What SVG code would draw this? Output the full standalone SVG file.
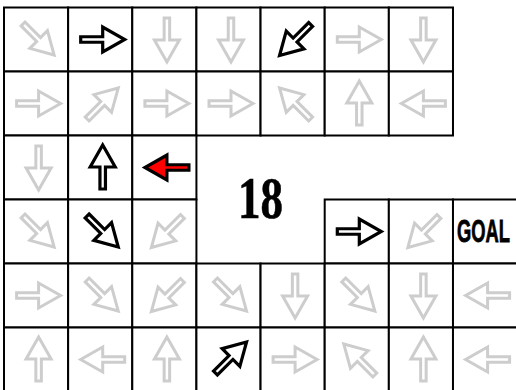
<svg xmlns="http://www.w3.org/2000/svg" xmlns:xlink="http://www.w3.org/1999/xlink" width="516" height="390" viewBox="0 0 516 390">
<style>
.cell{fill:#fff;stroke:#000;stroke-width:2}
.g{fill:#fff;stroke:#cdcdcd;stroke-width:3;stroke-linejoin:miter}
.k{fill:#fff;stroke:#000;stroke-width:3.2;stroke-linejoin:miter}
.r{fill:#ff0000;stroke:#000;stroke-width:3.2;stroke-linejoin:miter}
.num{font-family:"Liberation Serif",serif;font-weight:bold;font-size:59px;fill:#000;stroke:#000;stroke-width:0.6}
.goal{font-family:"Liberation Sans",sans-serif;font-weight:bold;font-size:32px;fill:#000;stroke:#000;stroke-width:0.8}
</style>
<defs>
<path id="a" d="M-22,-2.75 H0 V-12.5 L22,0 L0,12.5 V2.75 H-22 Z"/>
</defs>
<rect width="516" height="390" fill="#fff"/>
<g id="row0">
<g id="c0-0"><rect class="cell" x="4" y="7.5" width="64.14" height="64"/><use xlink:href="#a" class="g" transform="translate(38.6,39.5) rotate(45)"/></g>
<g id="c0-1"><rect class="cell" x="68.14" y="7.5" width="64.14" height="64"/><use xlink:href="#a" class="k" transform="translate(102.7,39.5)"/></g>
<g id="c0-2"><rect class="cell" x="132.28" y="7.5" width="64.14" height="64"/><use xlink:href="#a" class="g" transform="translate(166.9,40) rotate(90)"/></g>
<g id="c0-3"><rect class="cell" x="196.42" y="7.5" width="64.14" height="64"/><use xlink:href="#a" class="g" transform="translate(231,40) rotate(90)"/></g>
<g id="c0-4"><rect class="cell" x="260.56" y="7.5" width="64.14" height="64"/><use xlink:href="#a" class="k" transform="translate(295.1,40) rotate(135)"/></g>
<g id="c0-5"><rect class="cell" x="324.7" y="7.5" width="64.14" height="64"/><use xlink:href="#a" class="g" transform="translate(359.3,39.5)"/></g>
<g id="c0-6"><rect class="cell" x="388.84" y="7.5" width="64.14" height="64"/><use xlink:href="#a" class="g" transform="translate(423.4,40) rotate(90)"/></g>
</g>
<g id="row1">
<g id="c1-0"><rect class="cell" x="4" y="71.5" width="64.14" height="64"/><use xlink:href="#a" class="g" transform="translate(38.6,103.5)"/></g>
<g id="c1-1"><rect class="cell" x="68.14" y="71.5" width="64.14" height="64"/><use xlink:href="#a" class="g" transform="translate(102.7,103.5) rotate(315)"/></g>
<g id="c1-2"><rect class="cell" x="132.28" y="71.5" width="64.14" height="64"/><use xlink:href="#a" class="g" transform="translate(166.9,103.5)"/></g>
<g id="c1-3"><rect class="cell" x="196.42" y="71.5" width="64.14" height="64"/><use xlink:href="#a" class="g" transform="translate(231,103.5)"/></g>
<g id="c1-4"><rect class="cell" x="260.56" y="71.5" width="64.14" height="64"/><use xlink:href="#a" class="g" transform="translate(295.1,103.5) rotate(225)"/></g>
<g id="c1-5"><rect class="cell" x="324.7" y="71.5" width="64.14" height="64"/><use xlink:href="#a" class="g" transform="translate(359.3,103) rotate(270)"/></g>
<g id="c1-6"><rect class="cell" x="388.84" y="71.5" width="64.14" height="64"/><use xlink:href="#a" class="g" transform="translate(423.4,103.5) rotate(180)"/></g>
</g>
<g id="row2">
<g id="c2-0"><rect class="cell" x="4" y="135.5" width="64.14" height="64"/><use xlink:href="#a" class="g" transform="translate(38.6,168) rotate(90)"/></g>
<g id="c2-1"><rect class="cell" x="68.14" y="135.5" width="64.14" height="64"/><use xlink:href="#a" class="k" transform="translate(102.7,167) rotate(270)"/></g>
<g id="c2-2"><rect class="cell" x="132.28" y="135.5" width="64.14" height="64"/><use xlink:href="#a" class="r" transform="translate(166.9,167.5) rotate(180)"/></g>
</g>
<g id="row3">
<g id="c3-0"><rect class="cell" x="4" y="199.5" width="64.14" height="64"/><use xlink:href="#a" class="g" transform="translate(38.6,231.5) rotate(45)"/></g>
<g id="c3-1"><rect class="cell" x="68.14" y="199.5" width="64.14" height="64"/><use xlink:href="#a" class="k" transform="translate(102.7,231.5) rotate(45)"/></g>
<g id="c3-2"><rect class="cell" x="132.28" y="199.5" width="64.14" height="64"/><use xlink:href="#a" class="g" transform="translate(166.9,232) rotate(135)"/></g>
<g id="c3-5"><rect class="cell" x="324.7" y="199.5" width="64.14" height="64"/><use xlink:href="#a" class="k" transform="translate(359.3,231.5)"/></g>
<g id="c3-6"><rect class="cell" x="388.84" y="199.5" width="64.14" height="64"/><use xlink:href="#a" class="g" transform="translate(423.4,232) rotate(135)"/></g>
<g id="c3-7"><rect class="cell" x="452.98" y="199.5" width="64.14" height="64"/><text class="goal" x="483.5" y="241.5" text-anchor="middle" textLength="53" lengthAdjust="spacingAndGlyphs">GOAL</text></g>
</g>
<g id="row4">
<g id="c4-0"><rect class="cell" x="4" y="263.5" width="64.14" height="64"/><use xlink:href="#a" class="g" transform="translate(38.6,295.5)"/></g>
<g id="c4-1"><rect class="cell" x="68.14" y="263.5" width="64.14" height="64"/><use xlink:href="#a" class="g" transform="translate(102.7,295.5) rotate(45)"/></g>
<g id="c4-2"><rect class="cell" x="132.28" y="263.5" width="64.14" height="64"/><use xlink:href="#a" class="g" transform="translate(166.9,296) rotate(135)"/></g>
<g id="c4-3"><rect class="cell" x="196.42" y="263.5" width="64.14" height="64"/><use xlink:href="#a" class="g" transform="translate(231,295.5) rotate(45)"/></g>
<g id="c4-4"><rect class="cell" x="260.56" y="263.5" width="64.14" height="64"/><use xlink:href="#a" class="g" transform="translate(295.1,296) rotate(90)"/></g>
<g id="c4-5"><rect class="cell" x="324.7" y="263.5" width="64.14" height="64"/><use xlink:href="#a" class="g" transform="translate(359.3,295.5) rotate(45)"/></g>
<g id="c4-6"><rect class="cell" x="388.84" y="263.5" width="64.14" height="64"/><use xlink:href="#a" class="g" transform="translate(423.4,296) rotate(90)"/></g>
<g id="c4-7"><rect class="cell" x="452.98" y="263.5" width="64.14" height="64"/><use xlink:href="#a" class="g" transform="translate(487.6,295.5) rotate(180)"/></g>
</g>
<g id="row5">
<g id="c5-0"><rect class="cell" x="4" y="327.5" width="64.14" height="64"/><use xlink:href="#a" class="g" transform="translate(38.6,359) rotate(270)"/></g>
<g id="c5-1"><rect class="cell" x="68.14" y="327.5" width="64.14" height="64"/><use xlink:href="#a" class="g" transform="translate(102.7,359.5) rotate(180)"/></g>
<g id="c5-2"><rect class="cell" x="132.28" y="327.5" width="64.14" height="64"/><use xlink:href="#a" class="g" transform="translate(166.9,359) rotate(270)"/></g>
<g id="c5-3"><rect class="cell" x="196.42" y="327.5" width="64.14" height="64"/><use xlink:href="#a" class="k" transform="translate(231,357.5) rotate(315)"/></g>
<g id="c5-4"><rect class="cell" x="260.56" y="327.5" width="64.14" height="64"/><use xlink:href="#a" class="g" transform="translate(295.1,359.5)"/></g>
<g id="c5-5"><rect class="cell" x="324.7" y="327.5" width="64.14" height="64"/><use xlink:href="#a" class="g" transform="translate(359.3,359.5) rotate(225)"/></g>
<g id="c5-6"><rect class="cell" x="388.84" y="327.5" width="64.14" height="64"/><use xlink:href="#a" class="g" transform="translate(423.4,359) rotate(270)"/></g>
<g id="c5-7"><rect class="cell" x="452.98" y="327.5" width="64.14" height="64"/><use xlink:href="#a" class="g" transform="translate(487.6,359.5) rotate(180)"/></g>
</g>
<g id="label-18"><text class="num" x="260.5" y="218" text-anchor="middle" textLength="45" lengthAdjust="spacingAndGlyphs">18</text></g>
<g id="connectors"/>
</svg>
